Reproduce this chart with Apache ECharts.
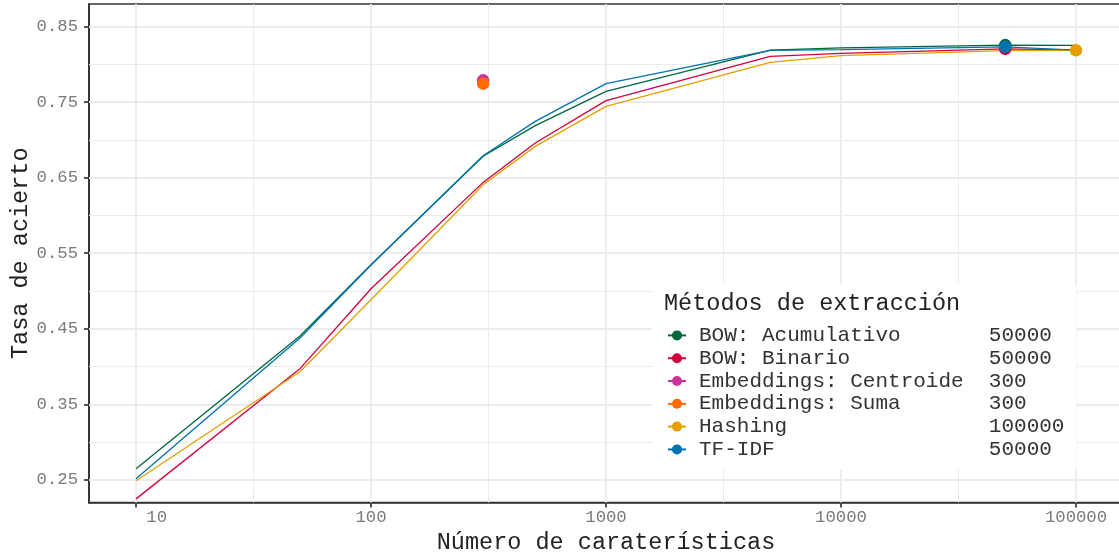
<!DOCTYPE html>
<html><head><meta charset="utf-8">
<script src="https://cdn.jsdelivr.net/npm/echarts@6/dist/echarts.min.js"></script>
<style>html,body{margin:0;padding:0;background:#fff}#c{width:1119px;height:553px}</style>
</head><body><div id="c"></div><script>
// ---- data ----
const features = [10, 50, 100, 300, 500, 1000, 5000, 10000, 50000, 100000];
const bowAcumulativo = [0.2646, 0.4407, 0.5348, 0.6785, 0.7189, 0.7643, 0.8190, 0.8218, 0.8256, 0.8252];
const bowBinario     = [0.2248, 0.3975, 0.5030, 0.6438, 0.6960, 0.7520, 0.8107, 0.8147, 0.8205, 0.8190];
const hashingVals    = [0.2487, 0.3935, 0.4884, 0.6407, 0.6915, 0.7445, 0.8027, 0.8116, 0.8183, 0.8187];
const tfidfVals      = [0.2513, 0.4381, 0.5345, 0.6790, 0.7246, 0.7745, 0.8186, 0.8195, 0.8232, 0.8188];
const embCentroideX = [300];
const embCentroide  = [0.7789];
const embSumaX = [300];
const embSuma  = [0.7745];
const methodNames = ['BOW: Acumulativo', 'BOW: Binario', 'Embeddings: Centroide', 'Embeddings: Suma', 'Hashing', 'TF-IDF'];
const xTicks = [10, 100, 1000, 10000, 100000];
const xTickLabels = ['    10', '100', '1000', '10000', '100000'];
const yTicks = [0.25, 0.35, 0.45, 0.55, 0.65, 0.75, 0.85];
const yTickLabels = ['0.25', '0.35', '0.45', '0.55', '0.65', '0.75', '0.85'];
const yMinorTicks = [0.30, 0.40, 0.50, 0.60, 0.70, 0.80];
const xTitle = 'Número de caraterísticas';
const yTitle = 'Tasa de acierto';
const legendTitle = 'Métodos de extracción';

// ---- styling ----
const FONT = "'Courier New', 'Liberation Mono', monospace";
const colors = {
  'BOW: Acumulativo': '#00673A',
  'BOW: Binario': '#D2003C',
  'Embeddings: Centroide': '#CC3399',
  'Embeddings: Suma': '#FF6A00',
  'Hashing': '#E69F00',
  'TF-IDF': '#0072B2'
};
const lineSets = [
  {name: 'BOW: Acumulativo', x: features, y: bowAcumulativo, line: true},
  {name: 'BOW: Binario', x: features, y: bowBinario, line: true},
  {name: 'Embeddings: Centroide', x: embCentroideX, y: embCentroide, line: false},
  {name: 'Embeddings: Suma', x: embSumaX, y: embSuma, line: false},
  {name: 'Hashing', x: features, y: hashingVals, line: true},
  {name: 'TF-IDF', x: features, y: tfidfVals, line: true}
];
// best point of each method
const best = {};
lineSets.forEach(s => {
  let bi = 0;
  s.y.forEach((v, i) => { if (v > s.y[bi]) bi = i; });
  best[s.name] = [s.x[bi], s.y[bi]];
});

const lx = [Math.log10(xTicks[0]), Math.log10(xTicks[xTicks.length - 1])];
const ex = (lx[1] - lx[0]) * 0.05;
const xMin = Math.pow(10, lx[0] - ex), xMax = Math.pow(10, lx[1] + ex);
const ey = (yTicks[yTicks.length - 1] - yTicks[0]) * 0.05;
const yMin = yTicks[0] - ey, yMax = yTicks[yTicks.length - 1] + ey;
const xMinorTicks = xTicks.slice(0, -1).map(t => t * Math.sqrt(10));

const GRID = '#EBEBEB';
const gridLines = [];
xTicks.forEach(v => gridLines.push({xAxis: v, lineStyle: {color: GRID, width: 1.8, type: 'solid'}}));
xMinorTicks.forEach(v => gridLines.push({xAxis: v, lineStyle: {color: GRID, width: 1, type: 'solid'}}));
yTicks.forEach(v => gridLines.push({yAxis: v, lineStyle: {color: GRID, width: 1.8, type: 'solid'}}));
yMinorTicks.forEach(v => gridLines.push({yAxis: v, lineStyle: {color: GRID, width: 1, type: 'solid'}}));

const series = [{
  type: 'line', name: '__grid', data: [], silent: true,
  markLine: {silent: true, z: 1, symbol: ['none', 'none'], animation: false,
    label: {show: false}, emphasis: {disabled: true}, data: gridLines}
}];
lineSets.filter(s => s.line).forEach(s => {
  series.push({
    type: 'line', name: s.name, z: 2,
    data: s.x.map((x, i) => [x, s.y[i]]),
    symbol: 'circle', showSymbol: false, symbolSize: 12.5,
    lineStyle: {color: colors[s.name], width: 1.3},
    itemStyle: {color: colors[s.name]},
    emphasis: {disabled: true}, silent: true, clip: false
  });
});
lineSets.forEach(s => {
  series.push({
    type: 'line', name: s.name, z: 3,
    data: [best[s.name]],
    symbol: 'circle', showSymbol: true, symbolSize: 12.5,
    lineStyle: {color: colors[s.name], width: 1.3},
    itemStyle: {color: colors[s.name]},
    emphasis: {disabled: true}, silent: true, clip: false
  });
});

function xLabel(v) {
  for (let i = 0; i < xTicks.length; i++) {
    if (Math.abs(Math.log10(v) - Math.log10(xTicks[i])) < 1e-6) return xTickLabels[i];
  }
  return '';
}
function yLabel(v) {
  for (let i = 0; i < yTicks.length; i++) {
    if (Math.abs(v - yTicks[i]) < 1e-6) return yTickLabels[i];
  }
  return '';
}

const chart = echarts.init(document.getElementById('c'), null, {renderer: 'canvas'});
chart.setOption({
  animation: false,
  backgroundColor: '#ffffff',
  title: {
    text: legendTitle, left: 664, top: 292, padding: 0, z: 10,
    textStyle: {fontFamily: FONT, fontSize: 23.5, fontWeight: 'normal', color: '#222'}
  },
  grid: {left: 89, right: -4, top: 4, bottom: 50.5, show: true, borderColor: '#333', borderWidth: 1.7,
    backgroundColor: 'transparent', containLabel: false, outerBoundsMode: 'none'},
  xAxis: {
    type: 'log', logBase: 10, min: xMin, max: xMax,
    name: xTitle, nameLocation: 'middle', nameGap: 26,
    nameTextStyle: {fontFamily: FONT, fontSize: 23.5, color: '#222'},
    axisLine: {show: true, lineStyle: {color: '#333', width: 1.7}},
    axisTick: {show: true, length: 5, customValues: xTicks, lineStyle: {color: '#333', width: 1.7}},
    axisLabel: {customValues: xTicks, formatter: xLabel, margin: 6, fontFamily: FONT, fontSize: 17.3, color: '#7a7a7a'},
    splitLine: {show: false}, minorTick: {show: false}, minorSplitLine: {show: false}
  },
  yAxis: {
    type: 'value', min: yMin, max: yMax,
    name: yTitle, nameLocation: 'middle', nameGap: 56, nameMoveOverlap: false,
    nameTextStyle: {fontFamily: FONT, fontSize: 23.5, color: '#222'},
    axisLine: {show: true, lineStyle: {color: '#333', width: 1.7}},
    axisTick: {show: true, length: 5, customValues: yTicks, lineStyle: {color: '#333', width: 1.7}},
    axisLabel: {customValues: yTicks, formatter: yLabel, margin: 11, fontFamily: FONT, fontSize: 17.3, color: '#7a7a7a'},
    splitLine: {show: false}, minorTick: {show: false}, minorSplitLine: {show: false}
  },
  legend: {
    orient: 'vertical', left: 652, top: 284,
    padding: [40, 12, 9, 15],
    backgroundColor: '#ffffff',
    itemWidth: 18, itemHeight: 12.5, itemGap: 0,
    selectedMode: false,
    data: methodNames,
    formatter: name => name.padEnd(23, ' ') + String(best[name][0]),
    textStyle: {fontFamily: FONT, fontSize: 21, color: '#333', lineHeight: 22.8, padding: [0, 0, 0, 8]}
  },
  series: series
});
</script></body></html>
